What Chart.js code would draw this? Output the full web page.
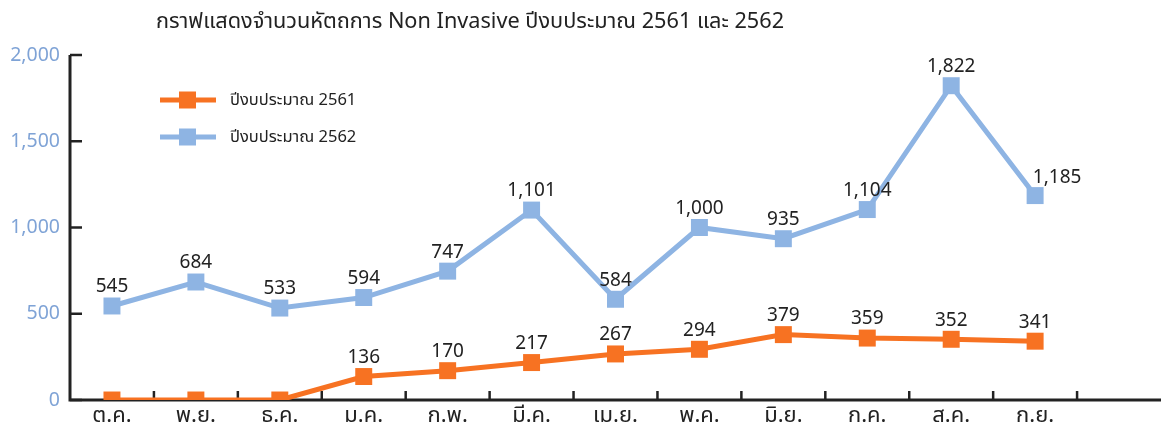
<!DOCTYPE html>
<html>
<head>
<meta charset="utf-8">
<script src="https://cdn.jsdelivr.net/npm/chart.js@4"></script>
<style>
  html, body { margin: 0; padding: 0; background: #fff; overflow: hidden; }
  #wrap { width: 1161px; height: 437px; position: relative; }
  canvas { display: block; }
</style>
</head>
<body>
<div id="wrap"><canvas id="chart"></canvas></div>
<script>
"use strict";

/**************************************************************
 * Data
 **************************************************************/
const TITLE = "กราฟแสดงจำนวนหัตถการ Non Invasive ปีงบประมาณ 2561 และ 2562";

const months = ["ต.ค.", "พ.ย.", "ธ.ค.", "ม.ค.", "ก.พ.", "มี.ค.", "เม.ย.", "พ.ค.", "มิ.ย.", "ก.ค.", "ส.ค.", "ก.ย.", ""];

const series2561 = [0, 0, 0, 136, 170, 217, 267, 294, 379, 359, 352, 341, null];
const series2562 = [545, 684, 533, 594, 747, 1101, 584, 1000, 935, 1104, 1822, 1185, null];

const seriesNames = ["ปีงบประมาณ 2561", "ปีงบประมาณ 2562"];

const yTicks = [0, 500, 1000, 1500, 2000];

const ORANGE = "#f77222";
const BLUE = "#8eb4e3";
const INK = "#222222";
const FONT = "'Noto Sans', 'Noto Sans Thai', sans-serif";

/**************************************************************
 * Plugins
 **************************************************************/
const axisMarks = {
  id: "axisMarks",
  beforeDatasetsDraw(chart) {
    const { ctx, chartArea, scales } = chart;
    const x = scales.x;
    const y = scales.y;
    ctx.save();
    ctx.strokeStyle = INK;
    ctx.lineWidth = 3;
    ctx.lineCap = "butt";

    // axes
    ctx.beginPath();
    ctx.moveTo(chartArea.left, y.getPixelForValue(2000));
    ctx.lineTo(chartArea.left, chartArea.bottom);
    ctx.lineTo(chart.width, chartArea.bottom);
    ctx.stroke();

    // y ticks (inside)
    ctx.lineWidth = 2.5;
    yTicks.forEach((v) => {
      const py = y.getPixelForValue(v);
      ctx.beginPath();
      ctx.moveTo(chartArea.left, py);
      ctx.lineTo(chartArea.left + 12, py);
      ctx.stroke();
    });

    // x ticks between categories (inside)
    for (let i = 1; i < months.length; i++) {
      const px = (x.getPixelForValue(i - 1) + x.getPixelForValue(i)) / 2;
      ctx.beginPath();
      ctx.moveTo(px, chartArea.bottom);
      ctx.lineTo(px, chartArea.bottom - 9);
      ctx.stroke();
    }
    ctx.restore();
  },
};

const pointLabels = {
  id: "pointLabels",
  afterDatasetsDraw(chart) {
    const { ctx } = chart;
    ctx.save();
    ctx.font = "19px " + FONT;
    ctx.fillStyle = INK;
    ctx.textBaseline = "middle";
    ctx.textAlign = "center";
    chart.data.datasets.forEach((ds, di) => {
      const meta = chart.getDatasetMeta(di);
      meta.data.forEach((pt, i) => {
        const v = ds.data[i];
        if (v === null || v === 0) return;
        const txt = v.toLocaleString("en-US");
        let dx = 0;
        let dy = -19;
        const isLast = ds.data[i + 1] === null;
        if (di === 1 && isLast) {
          dx = 22;
          dy = -18;
        }
        ctx.fillText(txt, pt.x + dx, pt.y + dy);
      });
    });
    ctx.restore();
  },
};

const titleAndLegend = {
  id: "titleAndLegend",
  afterDraw(chart) {
    const { ctx } = chart;
    ctx.save();
    ctx.fillStyle = INK;
    ctx.font = "21.7px " + FONT;
    ctx.textAlign = "center";
    ctx.textBaseline = "middle";
    ctx.fillText(TITLE, 470, 22);

    const colors = [ORANGE, BLUE];
    const rows = [100, 137];
    ctx.font = "16.5px " + FONT;
    ctx.textAlign = "left";
    seriesNames.forEach((name, i) => {
      const yy = rows[i];
      ctx.strokeStyle = colors[i];
      ctx.lineWidth = 5;
      ctx.beginPath();
      ctx.moveTo(160, yy);
      ctx.lineTo(216, yy);
      ctx.stroke();
      ctx.fillStyle = colors[i];
      ctx.fillRect(179, yy - 8.5, 17, 17);
      ctx.fillStyle = INK;
      ctx.fillText(name, 230, yy);
    });
    ctx.restore();
  },
};

/**************************************************************
 * Chart
 **************************************************************/
function makeDataset(label, data, color) {
  return {
    label: label,
    data: data,
    borderColor: color,
    backgroundColor: color,
    borderWidth: 5,
    pointStyle: "rect",
    pointRadius: 12,
    pointHoverRadius: 12,
    pointBorderWidth: 0,
    pointBackgroundColor: color,
    tension: 0,
    spanGaps: false,
  };
}

new Chart(document.getElementById("chart"), {
  type: "line",
  data: {
    labels: months,
    datasets: [
      makeDataset(seriesNames[0], series2561, ORANGE),
      makeDataset(seriesNames[1], series2562, BLUE),
    ],
  },
  options: {
    responsive: true,
    maintainAspectRatio: false,
    animation: false,
    events: [],
    layout: {
      autoPadding: false,
      padding: { top: 55, right: 0, left: 0, bottom: 0 },
    },
    plugins: {
      legend: { display: false },
      title: { display: false },
      tooltip: { enabled: false },
    },
    scales: {
      x: {
        offset: true,
        grid: { display: false },
        border: { display: false },
        ticks: {
          color: INK,
          font: { size: 22, family: FONT },
          padding: -5,
          maxRotation: 0,
          autoSkip: false,
        },
        afterFit(scale) {
          scale.height = 37;
          scale.paddingLeft = 0;
          scale.paddingRight = 0;
        },
      },
      y: {
        min: 0,
        max: 2000,
        afterBuildTicks(scale) {
          scale.ticks = yTicks.map((v) => ({ value: v }));
        },
        grid: { display: false },
        border: { display: false },
        ticks: {
          color: "#7fa3d6",
          font: { size: 19.5, family: FONT },
          padding: 2,
          callback: (v) => v.toLocaleString("en-US"),
        },
        afterFit(scale) {
          scale.width = 70;
          scale.paddingTop = 0;
          scale.paddingBottom = 0;
        },
      },
    },
  },
  plugins: [axisMarks, pointLabels, titleAndLegend],
});
</script>
</body>
</html>
